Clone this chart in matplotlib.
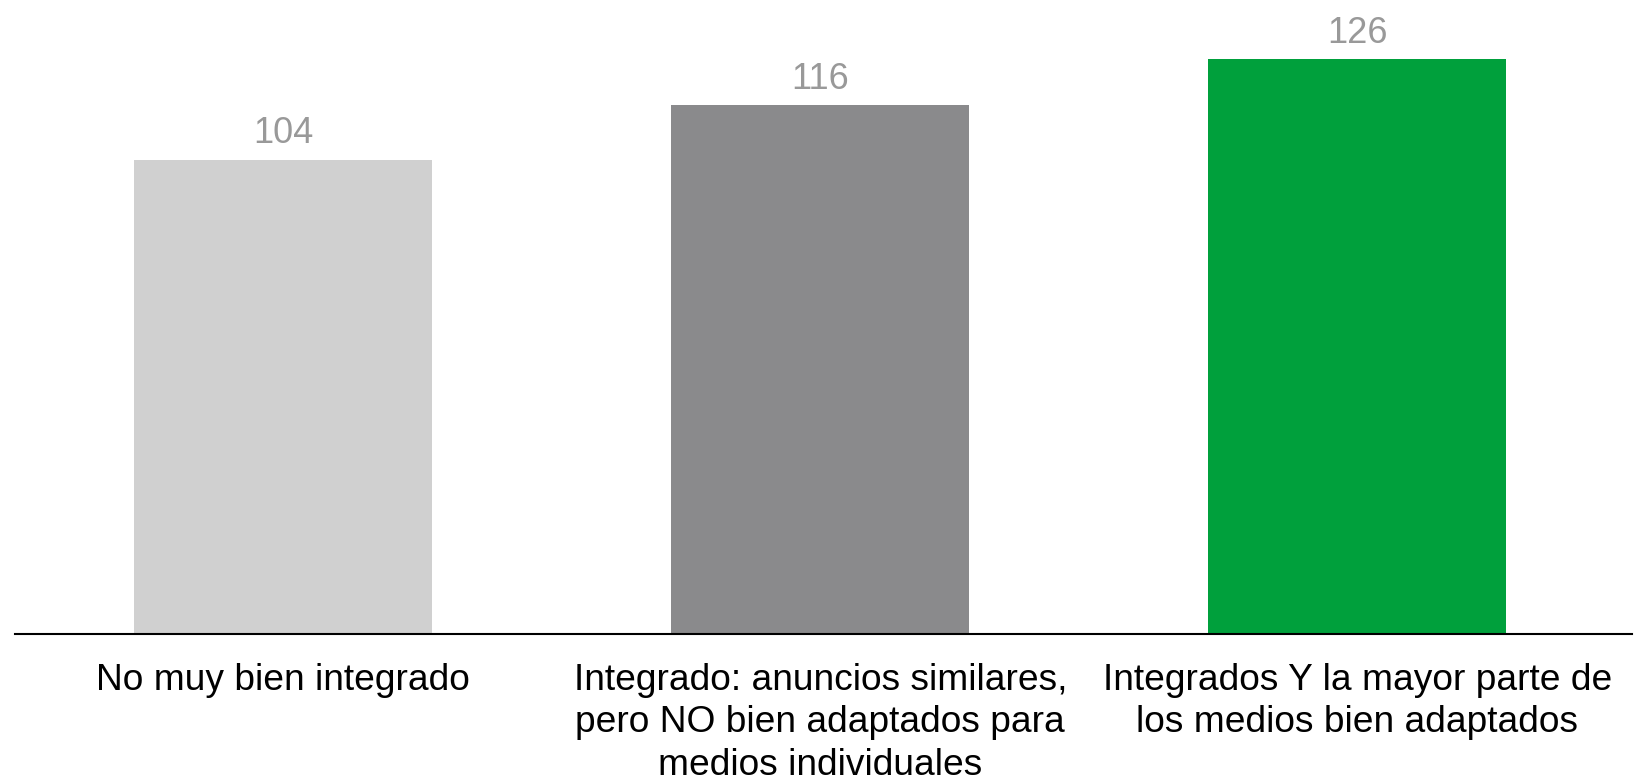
import matplotlib
matplotlib.use("Agg")
import matplotlib.pyplot as plt

categories = ["No muy bien integrado",
              "Integrado: anuncios similares,\npero NO bien adaptados para\nmedios individuales",
              "Integrados Y la mayor parte de\nlos medios bien adaptados"]
values = [104, 116, 126]
colors = ["#D0D0D0", "#8A8A8C", "#00A03C"]

plt.rcParams['font.family'] = ['Liberation Sans', 'DejaVu Sans']

fig = plt.figure(figsize=(16.45, 7.81), dpi=100)
ax = fig.add_axes([15/1645, (781-634)/781, 1617/1645, 634/781])
x = range(len(values))
bars = ax.bar(x, values, width=0.555, color=colors)
for xi, v in zip(x, values):
    ax.annotate(str(v), (xi, v), xytext=(0, 6), textcoords='offset points',
                ha='center', va='bottom', fontsize=26, color='#999999')
ax.set_xlim(-0.5, 2.512)
ax.set_ylim(0, 139)
ax.set_xticks(list(x))
ax.set_xticklabels(categories, fontsize=26.7, color='#000000', linespacing=1.27)
ax.tick_params(axis='x', length=0, pad=21)
ax.set_yticks([])
for s in ['top', 'left', 'right']:
    ax.spines[s].set_visible(False)
ax.spines['bottom'].set_linewidth(1.5)
ax.spines['bottom'].set_color('#000000')
fig.savefig('out.png', dpi=100)
